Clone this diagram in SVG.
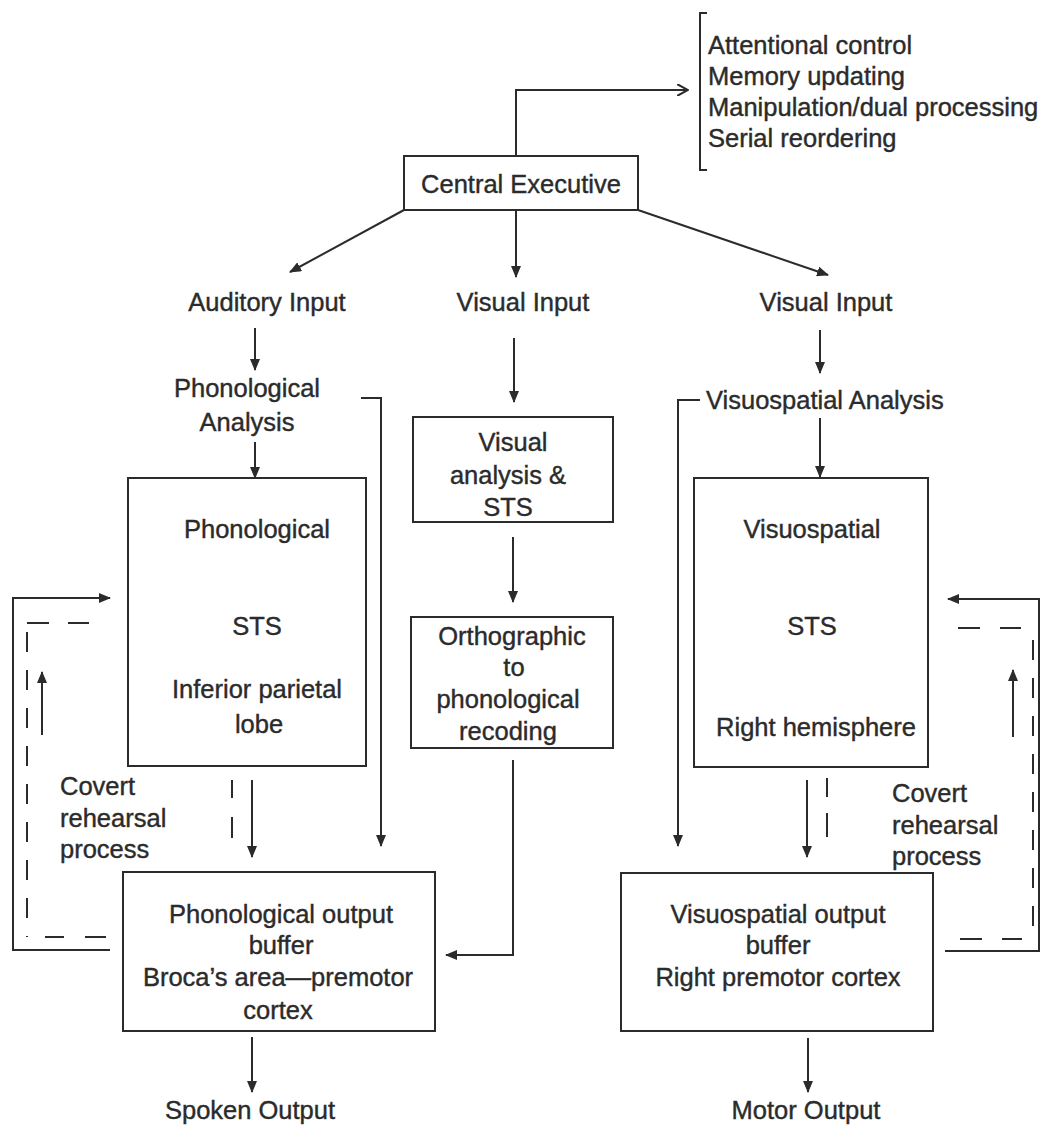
<svg xmlns="http://www.w3.org/2000/svg" width="1049" height="1125" viewBox="0 0 1049 1125">
<defs>
<marker id="ah" viewBox="0 0 12 10" refX="11" refY="5" markerWidth="12" markerHeight="10" markerUnits="userSpaceOnUse" orient="auto">
<path d="M0,0 L12,5 L0,10 z" fill="#2b2b2b"/>
</marker>
<marker id="ao" viewBox="0 0 12 12" refX="11" refY="6" markerWidth="12" markerHeight="12" markerUnits="userSpaceOnUse" orient="auto">
<path d="M0,0 L11,6 L0,12" fill="none" stroke="#2b2b2b" stroke-width="2"/>
</marker>
</defs>
<style>
text{font-family:"Liberation Sans",Arial,sans-serif;font-size:25.5px;fill:#2b2b2b;stroke:#2b2b2b;stroke-width:0.4px}
.c{text-anchor:middle}
.box{fill:none;stroke:#2b2b2b;stroke-width:2}
.ln{fill:none;stroke:#2b2b2b;stroke-width:2}
.ar{fill:none;stroke:#2b2b2b;stroke-width:2;marker-end:url(#ah)}
.ds{fill:none;stroke:#2b2b2b;stroke-width:2;stroke-dasharray:20 18}
</style>
<rect width="1049" height="1125" fill="#ffffff"/>

<g id="central-executive">
<rect class="box" x="404" y="156" width="234" height="54"/>
<text class="c" x="521" y="193">Central Executive</text>
</g>

<g id="functions">
<path class="ln" d="M707,13 L700,13 L700,170 L707,170"/>
<text x="708" y="54">Attentional control</text>
<text x="708" y="85">Memory updating</text>
<text x="708" y="116">Manipulation/dual processing</text>
<text x="708" y="147">Serial reordering</text>
</g>

<g id="auditory-input"><text class="c" x="267" y="311">Auditory Input</text></g>
<g id="visual-input-mid"><text class="c" x="523" y="311">Visual Input</text></g>
<g id="visual-input-right"><text class="c" x="826" y="311">Visual Input</text></g>

<g id="phonological-analysis">
<text class="c" x="247" y="397">Phonological</text>
<text class="c" x="247" y="431">Analysis</text>
</g>

<g id="visuospatial-analysis">
<text x="706" y="409">Visuospatial Analysis</text>
</g>

<g id="phonological-sts">
<rect class="box" x="128" y="478" width="238" height="288"/>
<text class="c" x="257" y="538">Phonological</text>
<text class="c" x="257" y="635">STS</text>
<text class="c" x="257" y="698">Inferior parietal</text>
<text class="c" x="259" y="733">lobe</text>
</g>

<g id="visual-analysis-sts">
<rect class="box" x="413" y="417" width="200" height="105"/>
<text class="c" x="513" y="451">Visual</text>
<text class="c" x="508" y="484">analysis &amp;</text>
<text class="c" x="508" y="516">STS</text>
</g>

<g id="orthographic">
<rect class="box" x="411" y="617" width="202" height="131"/>
<text class="c" x="512" y="645">Orthographic</text>
<text class="c" x="514" y="676">to</text>
<text class="c" x="508" y="708">phonological</text>
<text class="c" x="508" y="740">recoding</text>
</g>

<g id="visuospatial-sts">
<rect class="box" x="694" y="478" width="234" height="289"/>
<text class="c" x="812" y="538">Visuospatial</text>
<text class="c" x="812" y="635">STS</text>
<text class="c" x="816" y="736">Right hemisphere</text>
</g>

<g id="phonological-output-buffer">
<rect class="box" x="123" y="872" width="312" height="159"/>
<text class="c" x="281" y="923">Phonological output</text>
<text class="c" x="281" y="954">buffer</text>
<text class="c" x="278" y="986">Broca’s area—premotor</text>
<text class="c" x="278" y="1019">cortex</text>
</g>

<g id="visuospatial-output-buffer">
<rect class="box" x="621" y="873" width="312" height="158"/>
<text class="c" x="778" y="923">Visuospatial output</text>
<text class="c" x="778" y="954">buffer</text>
<text class="c" x="778" y="986">Right premotor cortex</text>
</g>

<g id="covert-left">
<text x="60" y="795">Covert</text>
<text x="60" y="827">rehearsal</text>
<text x="60" y="858">process</text>
</g>
<g id="covert-right">
<text x="892" y="802">Covert</text>
<text x="892" y="834">rehearsal</text>
<text x="892" y="865">process</text>
</g>

<g id="spoken-output"><text class="c" x="250" y="1119">Spoken Output</text></g>
<g id="motor-output"><text class="c" x="806" y="1119">Motor Output</text></g>

<g id="connectors">
<path class="ln" d="M516,156 L516,90 L688,90" marker-end="url(#ao)"/>
<path class="ar" d="M404,210 L290,272"/>
<path class="ar" d="M516,210 L516,277"/>
<path class="ar" d="M638,210 L828,275"/>

<path class="ar" d="M255,328 L255,370"/>
<path class="ar" d="M514,338 L514,402"/>
<path class="ar" d="M820,330 L820,373"/>

<path class="ar" d="M255,442 L255,478"/>
<path class="ar" d="M820,418 L820,477"/>
<path class="ar" d="M513,537 L513,602"/>

<path class="ar" d="M361,398 L381,398 L381,846"/>
<path class="ar" d="M700,400 L678,400 L678,846"/>

<path class="ar" d="M252,780 L252,857"/>
<path class="ln" d="M232,780 L232,798 M232,817 L232,838"/>
<path class="ar" d="M807,780 L807,857"/>
<path class="ln" d="M827,778 L827,797 M827,813 L827,837"/>

<path class="ar" d="M513,760 L513,955 L446,955"/>

<path class="ar" d="M110,950 L13,950 L13,598 L110,598"/>
<path class="ln" d="M27,623 L49,623 M68,623 L89,623"/>
<path class="ds" d="M27,632 L27,937"/>
<path class="ln" d="M45,937 L64,937 M85,937 L106,937"/>
<path class="ar" d="M42,735 L42,672"/>

<path class="ar" d="M945,951 L1039,951 L1039,599 L948,599"/>
<path class="ln" d="M958,628 L980,628 M1000,628 L1021,628"/>
<path class="ds" d="M1033,640 L1033,940"/>
<path class="ln" d="M960,939 L982,939 M1002,939 L1022,939"/>
<path class="ar" d="M1013,737 L1013,670"/>

<path class="ar" d="M252,1037 L252,1092"/>
<path class="ar" d="M808,1038 L808,1092"/>
</g>
</svg>
